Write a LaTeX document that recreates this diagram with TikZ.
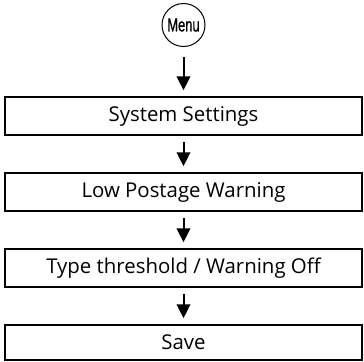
\documentclass[tikz,border=0pt]{standalone}
\usepackage{fontspec}
\setmainfont{Open Sans}
\newfontfamily\menufont[FakeStretch=0.68, FakeBold=0.6]{Liberation Sans}
\usetikzlibrary{arrows.meta}

\begin{document}
\begin{tikzpicture}[x=0.5pt, y=-0.5pt,
    >={Triangle[length=7pt, width=6.8pt]},
    stepbox/.style={draw, line width=0.75pt, minimum width=178.5pt,
      minimum height=19pt, inner sep=0pt, font=\fontsize{10.2}{12}\selectfont},
    menubtn/.style={draw, circle, line width=0.5pt, minimum size=21.5pt,
      inner sep=0pt, font=\menufont\fontsize{9.5}{10}\selectfont},
    flow/.style={->, line width=1pt, shorten <=3pt, shorten >=3pt}]
  \useasboundingbox (0,0) rectangle (364,361);
  % boton de menu
  \node[menubtn] (menu) at (183.5,25) {Menu};
  % pasos
  \node[stepbox] (sys)  at (183.5,116) {System Settings};
  \node[stepbox] (low)  at (183.5,192) {Low Postage Warning};
  \node[stepbox] (thr)  at (183.5,268) {Type threshold / Warning Off};
  \node[stepbox, minimum height=17.5pt] (save) at (183.5,342.5) {Save};
  % flechas
  \draw[flow, shorten <=5pt] (menu.south) -- (sys.north);
  \draw[flow] (sys.south) -- (low.north);
  \draw[flow] (low.south) -- (thr.north);
  \draw[flow] (thr.south) -- (save.north);
\end{tikzpicture}
\end{document}
